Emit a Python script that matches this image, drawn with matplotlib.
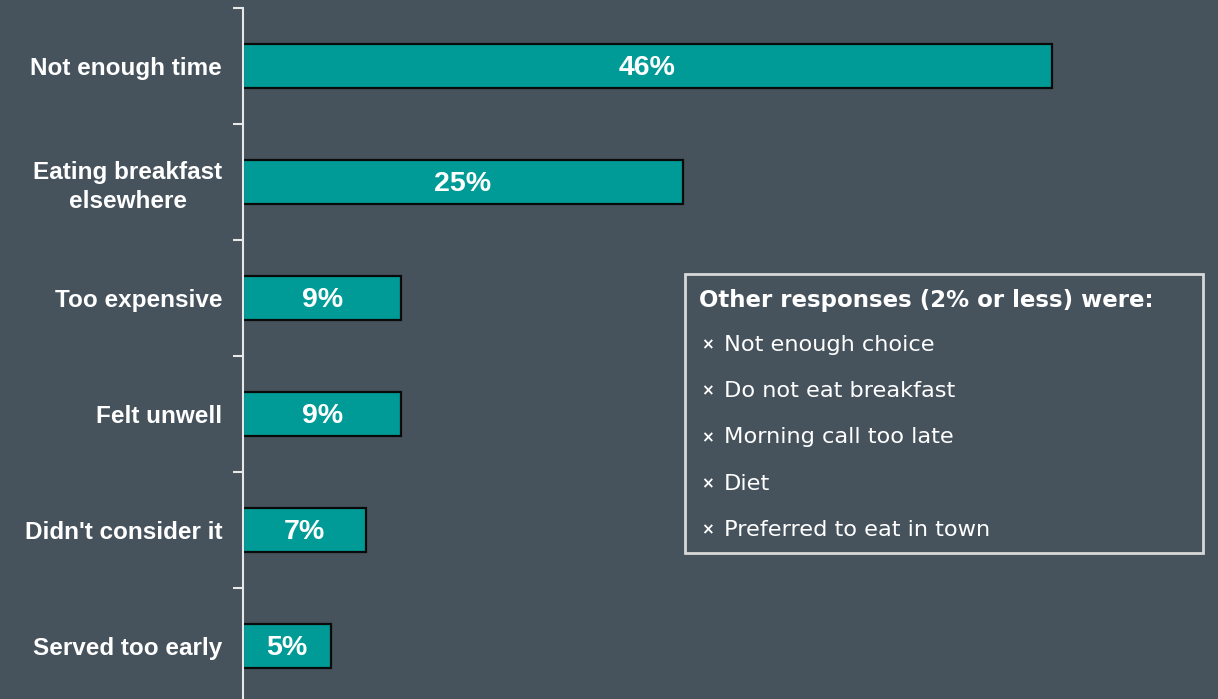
import matplotlib
matplotlib.use("Agg")
import matplotlib.pyplot as plt
from matplotlib.patches import Rectangle
import numpy as np

categories = ["Not enough time", "Eating breakfast\nelsewhere", "Too expensive",
              "Felt unwell", "Didn't consider it", "Served too early"]
values = [46, 25, 9, 9, 7, 5]
value_labels = ["46%", "25%", "9%", "9%", "7%", "5%"]
box_title = "Other responses (2% or less) were:"
box_items = ["Not enough choice", "Do not eat breakfast", "Morning call too late",
             "Diet", "Preferred to eat in town"]

BG = "#46535d"
BAR = "#009b96"
W, H = 1218, 699

fig = plt.figure(figsize=(W / 100, H / 100), dpi=100)
fig.patch.set_facecolor(BG)

# axes spans x 243..1218, y 8..704 (pixels from top)
x0, x1 = 243, 1218
ytop, ybot = 8, 704
ax = fig.add_axes([x0 / W, 1 - ybot / H, (x1 - x0) / W, (ybot - ytop) / H])
ax.set_facecolor(BG)
ax.patch.set_alpha(0)

px_per_pct = (1052 - 243) / 46.0
ax.set_xlim(0, (x1 - x0) / px_per_pct)
ax.set_ylim(len(categories) - 0.5, -0.5)

y = np.arange(len(categories))
ax.barh(y, values, height=0.38, color=BAR, edgecolor="#0a0a0a", linewidth=1.6)

for yi, v, lab in zip(y, values, value_labels):
    ax.text(v / 2, yi + 0.02, lab, ha="center", va="center", color="white",
            fontsize=20.5, fontweight="bold", family="Liberation Sans")

ax.set_yticks(y)
ax.set_yticklabels(categories, color="white", fontsize=17.5, fontweight="bold",
                   family="Liberation Sans", linespacing=1.3)
for t in ax.get_yticklabels():
    t.set_horizontalalignment("right")
    t.set_multialignment("center")
ax.tick_params(axis="y", which="major", length=0, pad=15)
ax.set_yticks(np.arange(-0.5, len(categories), 1.0), minor=True)
ax.tick_params(axis="y", which="minor", length=7, width=1.5, color="#e8e8e8", direction="out")
ax.set_xticks([])
for s in ["top", "right", "bottom"]:
    ax.spines[s].set_visible(False)
ax.spines["left"].set_color("#e8e8e8")
ax.spines["left"].set_linewidth(1.5)

# info box
bx0, by0, bx1, by1 = 685, 274, 1203, 553
fig.patches.append(Rectangle((bx0 / W, 1 - by1 / H), (bx1 - bx0) / W, (by1 - by0) / H,
                             transform=fig.transFigure, facecolor=BG,
                             edgecolor="#d8d8d8", linewidth=2))
fig.text(699 / W, 1 - 300 / H, box_title, color="white", fontsize=16.5,
         fontweight="bold", family="DejaVu Sans", va="center", ha="left")
for i, item in enumerate(box_items):
    yy = 1 - (345 + 46.2 * i) / H
    fig.text(701 / W, yy, "\u00d7", color="white", fontsize=11, fontweight="bold",
             family="DejaVu Sans", va="center", ha="left")
    fig.text(724 / W, yy, item, color="white", fontsize=16.2,
             family="DejaVu Sans", va="center", ha="left")

fig.savefig("out.png", dpi=100, facecolor=BG)
